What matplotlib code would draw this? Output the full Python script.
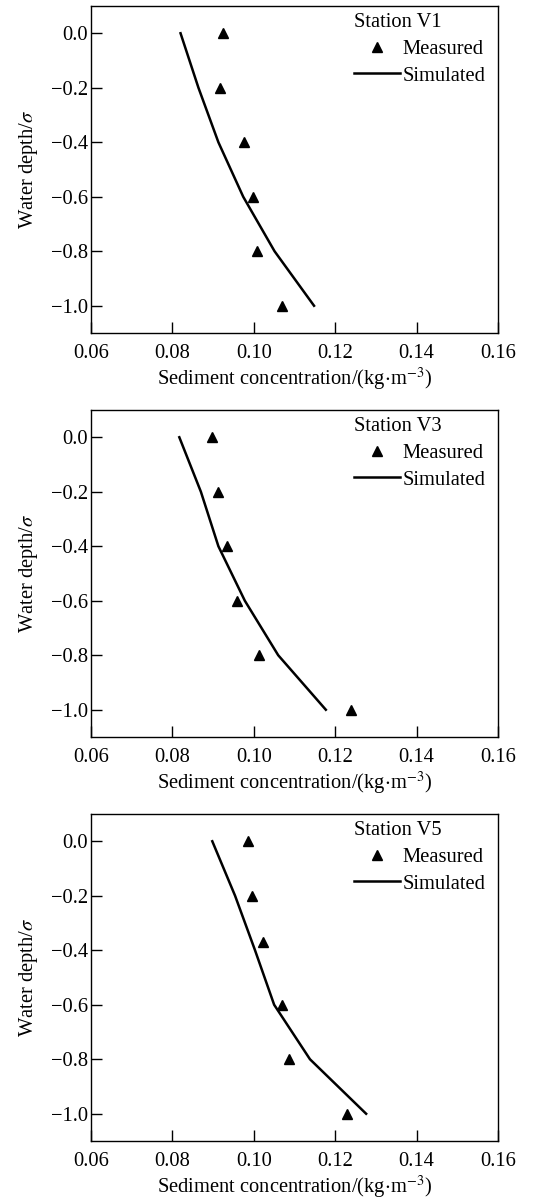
import matplotlib
matplotlib.use("Agg")
import matplotlib.pyplot as plt

plt.rcParams["font.family"] = ["Liberation Serif", "DejaVu Serif"]
plt.rcParams["mathtext.fontset"] = "stix"

depth = [0.0, -0.2, -0.4, -0.6, -0.8, -1.0]

stations = ["Station V1", "Station V3", "Station V5"]

measured_depth = [
    [0.0, -0.2, -0.4, -0.6, -0.8, -1.0],
    [0.0, -0.2, -0.4, -0.6, -0.8, -1.0],
    [0.0, -0.2, -0.37, -0.6, -0.8, -1.0],
]
measured_conc = [
    [0.0925, 0.0917, 0.0975, 0.0998, 0.1007, 0.1070],
    [0.0897, 0.0913, 0.0934, 0.0958, 0.1014, 0.1238],
    [0.0986, 0.0996, 0.1023, 0.1069, 0.1086, 0.1229],
]
simulated_conc = [
    [0.0820, 0.0864, 0.0913, 0.0974, 0.1051, 0.1148],
    [0.0817, 0.0870, 0.0913, 0.0978, 0.1060, 0.1177],
    [0.0898, 0.0954, 0.1003, 0.1050, 0.1138, 0.1276],
]

x_ticks = [0.06, 0.08, 0.10, 0.12, 0.14, 0.16]
y_ticks = [0.0, -0.2, -0.4, -0.6, -0.8, -1.0]

FS = 14.8
W, H = 537, 1201
fig = plt.figure(figsize=(W / 100, H / 100), dpi=100)

panel_bottoms = [333, 737, 1141]  # pixel bottom of each axes
for i, station in enumerate(stations):
    bottom = panel_bottoms[i]
    ax = fig.add_axes([91 / W, (H - bottom) / H, 407 / W, 327 / H])
    ax.plot(measured_conc[i], measured_depth[i], linestyle="none", marker="^",
            color="black", markersize=7, label="Measured")
    ax.plot(simulated_conc[i], depth, color="black", linewidth=1.8, label="Simulated")

    ax.set_xlim(0.06, 0.16)
    ax.set_ylim(-1.1, 0.1)
    ax.set_xticks(x_ticks)
    ax.set_xticklabels([f"{v:.2f}" for v in x_ticks])
    ax.set_yticks(y_ticks)
    ax.set_yticklabels([f"{v:.1f}".replace("-", "\u2212") for v in y_ticks])
    ax.tick_params(direction="in", length=8, width=1, labelsize=FS,
                   top=False, right=False)
    ax.tick_params(axis="x", pad=8)
    ax.tick_params(axis="y", pad=2)
    for spine in ax.spines.values():
        spine.set_linewidth(1)

    ax.set_xlabel(r"Sediment concentration/(kg$\cdot$m$^{-3}$)", fontsize=FS, labelpad=2)
    ax.set_ylabel(r"Water depth/$\sigma$", fontsize=FS, labelpad=8)

    ax.legend(title=station, loc="upper right", bbox_to_anchor=(1.0, 1.015),
              frameon=False, fontsize=FS, title_fontsize=FS,
              handlelength=2.2, handletextpad=0.15, labelspacing=0.35,
              borderaxespad=0.2, alignment="left")

fig.savefig("out.png", dpi=100)
